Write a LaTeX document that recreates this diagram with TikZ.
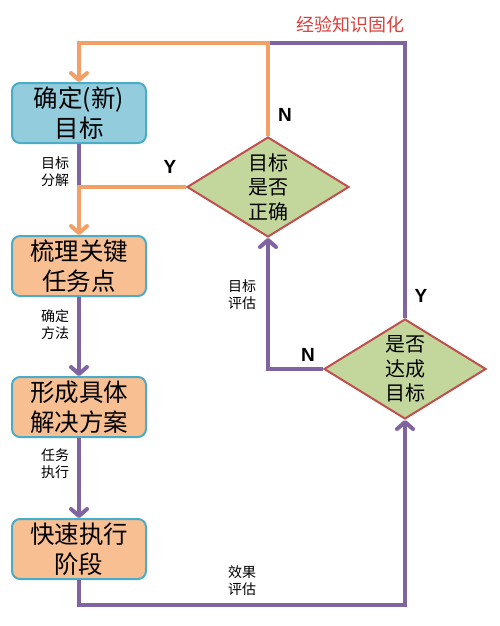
\documentclass[tikz,border=0pt]{standalone}
\usepackage{fontspec}
\newfontfamily\cjk{Noto Sans CJK SC}
\newfontfamily\latinsf{Liberation Sans}
\usetikzlibrary{shapes.geometric}
\usetikzlibrary{arrows.meta}
\definecolor{boxline}{HTML}{4BACC6}
\definecolor{bluefill}{HTML}{93CDDD}
\definecolor{orangefill}{HTML}{F8BF93}
\definecolor{greenfill}{HTML}{C3D69B}
\definecolor{redline}{HTML}{C0504D}
\definecolor{purpleflow}{HTML}{8064A2}
\definecolor{orangeflow}{HTML}{F2A065}
\definecolor{titlered}{HTML}{D9403C}
\tikzset{
	stepbox/.style={draw=boxline, line width=2pt, rounded corners=8pt, minimum width=134pt, minimum height=60pt, align=center, inner sep=0pt, font=\cjk\fontsize{24.5}{30}\selectfont},
	bluebox/.style={stepbox, fill=bluefill},
	orangebox/.style={stepbox, fill=orangefill},
	decision/.style={diamond, draw=redline, line width=2pt, fill=greenfill, minimum width=162pt, minimum height=100pt, inner sep=0pt},
	decisiontext/.style={align=center, font=\cjk\fontsize{20}{24.5}\selectfont},
	flowtip/.style={-{Straight Barb[length=7pt,width=16pt,round]}},
	purpleline/.style={draw=purpleflow, line width=4pt},
	orangeline/.style={draw=orangeflow, line width=4pt},
	steplabel/.style={align=center, font=\cjk\fontsize{14}{17}\selectfont},
	yesno/.style={font=\latinsf\bfseries\fontsize{19}{19}\selectfont}
}
\begin{document}
\begin{tikzpicture}[x=1pt,y=-1pt]
			\useasboundingbox (0,0) rectangle (499,626);
			\node at (79,113) (goal) [bluebox] {确定(新)\\目标} ;
			\node at (79,266) (task) [orangebox] {梳理关键\\任务点} ;
			\node at (79,407) (plan) [orangebox] {形成具体\\解决方案} ;
			\node at (79,549) (exec) [orangebox] {快速执行\\阶段} ;
			\node at (268,187) (check) [decision] {} ;
			\node at (check) (checktext) [decisiontext] {目标\\是否\\正确} ;
			\node at (405,369) (reach) [decision] {} ;
			\node at (reach) (reachtext) [decisiontext] {是否\\达成\\目标} ;
			\coordinate (top) at (268,43) ; \coordinate (bottom) at (405,605) ;
			\draw[purpleline] (reach.north) |- (top); \draw[purpleline] (goal.south) -- (goal.south |- check.west);
			\draw[purpleline,flowtip] (reach.west) -| (check.south);
			\draw[purpleline,flowtip] (task.south) -- (plan.north); \draw[purpleline,flowtip] (plan.south) -- (exec.north);
			\draw[purpleline,flowtip] (exec.south) |- (bottom) -- (reach.south);
			\draw[orangeline,flowtip] (check.north) -- (top) -| (goal.north);
			\draw[orangeline,flowtip] (check.west) -| (task.north);
			\node at (350,25) (title) [font=\cjk\fontsize{18}{18}\selectfont, text=titlered] {经验知识固化} ;
			\node at (285,115) (no1) [yesno] {N} ; \node at (170,167) (yes1) [yesno] {Y} ;
			\node at (421,296) (yes2) [yesno] {Y} ; \node at (308,355) (no2) [yesno] {N} ;
			\node at (55,172) (split) [steplabel] {目标\\分解} ;
			\node at (55,325) (method) [steplabel] {确定\\方法} ;
			\node at (55,464) (run) [steplabel] {任务\\执行} ;
			\node at (242,295) (assess) [steplabel] {目标\\评估} ;
			\node at (242,581) (effect) [steplabel] {效果\\评估} ;
\end{tikzpicture}
\end{document}
